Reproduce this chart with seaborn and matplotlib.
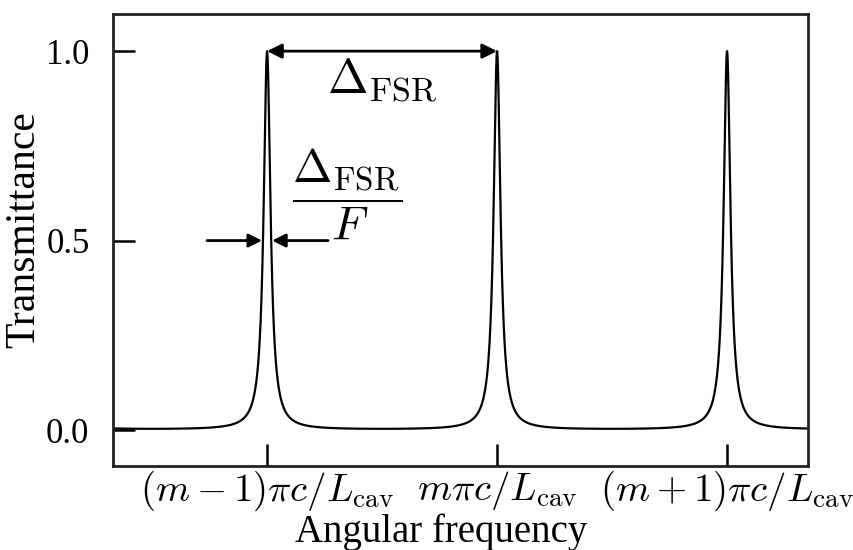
import numpy as np
import pandas as pd
import matplotlib
matplotlib.use("Agg")
import matplotlib.pyplot as plt
import seaborn as sns

# ---- data ----
peak_positions = [0.0, 1.0, 2.0]          # resonance orders m-1, m, m+1 (units of FSR)
peak_labels = [r"$(m-1)\pi c/L_{\mathrm{cav}}$",
               r"$m\pi c/L_{\mathrm{cav}}$",
               r"$(m+1)\pi c/L_{\mathrm{cav}}$"]
finesse = 28.0
x_range = [-0.67, 2.352]
y_ticks = [0.0, 0.5, 1.0]
y_tick_labels = ["0.0", "0.5", "1.0"]

x = np.linspace(x_range[0], x_range[1], 4000)
coef = (2 * finesse / np.pi) ** 2
T = 1.0 / (1.0 + coef * np.sin(np.pi * (x - peak_positions[0])) ** 2)
df = pd.DataFrame({"freq": x, "T": T})

sns.set_style("ticks")
plt.rcParams["font.family"] = ["Liberation Serif", "DejaVu Serif"]
plt.rcParams["mathtext.fontset"] = "cm"
for k in ["text.color", "axes.labelcolor", "xtick.color", "ytick.color"]:
    plt.rcParams[k] = "black"

fig = plt.figure(figsize=(8.54, 5.5), dpi=100)
ax = fig.add_axes([113 / 854, 84 / 550, 695 / 854, 452 / 550])

sns.lineplot(data=df, x="freq", y="T", ax=ax, color="black", lw=1.6)

ax.set_xlim(x_range)
ax.set_ylim(-0.095, 1.098)

ax.set_xticks(peak_positions)
ax.set_xticklabels(peak_labels, fontsize=28)
ax.set_yticks(y_ticks)
ax.set_yticklabels(y_tick_labels, fontsize=25)
ax.tick_params(axis="both", direction="in", length=16, width=1.8, color="black")
ax.tick_params(axis="y", pad=17)
ax.tick_params(axis="x", pad=2)

for s in ax.spines.values():
    s.set_linewidth(2.0)
    s.set_color("#222222")

ax.set_xlabel("Angular frequency", fontsize=28)
ax.set_ylabel("Transmittance", fontsize=30)
ax.xaxis.set_label_coords(0.472, -0.105)
ax.yaxis.set_label_coords(-0.1, 0.524)

# ---- annotations ----
p1, p2 = peak_positions[0], peak_positions[1]
ax.annotate("", xy=(p2, 1.0), xytext=(p1, 1.0),
            arrowprops=dict(arrowstyle="<|-|>", color="black", lw=2,
                            mutation_scale=22, shrinkA=0, shrinkB=0))
ax.text((p1 + p2) / 2, 0.925, r"$\Delta_{\mathrm{FSR}}$", fontsize=35,
        ha="center", va="center")

half = 0.5 / finesse
ax.annotate("", xy=(p1 - half - 0.004, 0.5), xytext=(p1 - 0.261, 0.5),
            arrowprops=dict(arrowstyle="-|>", color="black", lw=2,
                            mutation_scale=20, shrinkA=0, shrinkB=0))
ax.annotate("", xy=(p1 + half + 0.004, 0.5), xytext=(p1 + 0.265, 0.5),
            arrowprops=dict(arrowstyle="-|>", color="black", lw=2,
                            mutation_scale=20, shrinkA=0, shrinkB=0))
ax.text(p1 + 0.35, 0.625, r"$\dfrac{\Delta_{\mathrm{FSR}}}{F}$", fontsize=34,
        ha="center", va="center")

fig.savefig("out.png", dpi=100)
